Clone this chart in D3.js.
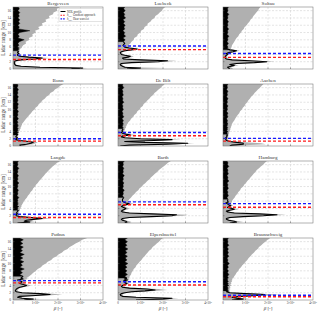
<!DOCTYPE html>
<html>
<head>
<meta charset="utf-8">
<script src="https://cdn.jsdelivr.net/npm/d3@7"></script>
<style>
body { margin: 0; background: #fff; }
svg { display: block; font-family: "Liberation Serif", "DejaVu Serif", serif; }
</style>
</head>
<body>
<div id="chart"></div>
<script>
// range bins [km]
const heights = [0, 0.25, 0.5, 0.75, 1, 1.25, 1.5, 1.75, 2, 2.25, 2.5, 2.75, 3, 3.25, 3.5, 3.75, 4, 4.25, 4.5, 4.75, 5, 5.25, 5.5, 5.75, 6,
  6.5, 7, 7.5, 8, 8.5, 9, 9.5, 10, 10.5, 11, 11.5, 12, 12.5, 13, 13.5, 14, 14.5, 15, 15.5, 16, 16.5, 17];

const stations = ["Bergeveen", "Luebeck", "Soltau", "Bonn", "De Bilt", "Aachen",
  "Langde", "Barth", "Hamburg", "Putbus", "Elpersbuettel", "Braunschweig"];

// PBL heights [km]
const pblGradient = [2.6, 5.3, 3.2, 1.35, 2.8, 1.35, 1.5, 5.0, 4.3, 4.7, 4.1, 0.9];
const pblWavelet = [3.8, 6.3, 4.25, 2.0, 3.7, 2.1, 2.4, 5.8, 5.3, 5.3, 5.0, 1.3];

// beta in units of 1e6 -- smoothed NDL profile (black) and raw signal (grey)
const bergeveenNdl = [2.6,3.1,1.2,0.35,0.12,0.08,0.06,0.06,0.07,0.1,0.35,1.0,1.3,0.7,0.3,0.2,0.2,0.26,0.2,0.24,0.2,0.26,0.22,0.28,0.2,
  0.26,0.22,0.28,0.5,0.22,0.28,0.22,0.3,0.75,0.24,0.28,0.22,0.3,0.24,0.3,0.22,0.28,0.24,0.3,0.22,0.28,0.24];
const bergeveenRaw = [2.9,3.3,1.5,0.5,0.2,0.15,0.12,0.12,0.14,0.2,0.5,1.3,1.6,1.0,0.5,0.35,0.3,0.32,0.26,0.3,0.28,0.32,0.3,0.38,0.4,
  0.45,0.58,0.56,0.74,0.7,0.88,0.86,1.02,0.98,1.18,1.12,1.32,1.28,1.48,1.44,1.62,1.6,1.78,1.8,1.97,1.95,2.1];

const luebeckNdl = [0.4,1.0,0.3,0.2,0.12,0.1,0.15,0.6,1.8,2.2,1.0,0.25,0.2,0.45,0.55,0.3,0.15,0.12,0.1,0.15,0.3,0.6,0.85,0.5,0.3,
  0.22,0.3,0.24,0.32,0.22,0.34,0.26,0.3,0.22,0.3,0.26,0.32,0.24,0.3,0.22,0.34,0.26,0.3,0.24,0.32,0.25,0.3];
const luebeckRaw = [0.6,2.1,0.5,0.3,0.2,0.18,0.3,0.9,2.2,2.6,1.4,0.4,0.3,0.6,0.7,0.45,0.25,0.2,0.18,0.25,0.45,0.8,1.0,0.7,0.45,
  0.45,0.55,0.6,0.7,0.72,0.85,0.88,1.0,1.02,1.15,1.18,1.3,1.32,1.45,1.5,1.62,1.66,1.78,1.85,1.95,2.0,2.1];

const soltauNdl = [0.3,0.25,0.2,0.35,0.5,0.3,0.6,1.4,1.95,1.2,0.4,0.15,0.1,0.12,0.1,0.15,0.2,0.15,0.25,0.45,0.6,0.3,0.2,0.2,0.22,
  0.18,0.24,0.18,0.22,0.2,0.26,0.18,0.22,0.2,0.25,0.18,0.22,0.2,0.24,0.18,0.22,0.2,0.26,0.18,0.22,0.2,0.24];
const soltauRaw = [0.45,0.4,0.35,0.5,0.7,0.45,0.8,1.7,2.3,1.6,0.6,0.25,0.18,0.2,0.18,0.22,0.28,0.25,0.35,0.55,0.75,0.5,0.35,0.35,0.38,
  0.4,0.45,0.5,0.55,0.6,0.68,0.72,0.8,0.84,0.92,0.96,1.05,1.1,1.18,1.22,1.3,1.35,1.42,1.48,1.55,1.6,1.66];

const bonnNdl = [0.35,0.3,0.6,0.8,0.9,0.7,0.3,0.12,0.15,0.2,0.12,0.15,0.18,0.22,0.18,0.24,0.18,0.22,0.2,0.24,0.18,0.22,0.2,0.24,0.18,
  0.22,0.18,0.24,0.18,0.22,0.2,0.24,0.18,0.22,0.2,0.24,0.18,0.22,0.2,0.24,0.18,0.22,0.2,0.24,0.18,0.22,0.2];
const bonnRaw = [0.6,0.5,0.9,1.0,1.1,0.9,0.45,0.2,0.2,0.22,0.2,0.24,0.22,0.25,0.24,0.28,0.26,0.3,0.3,0.34,0.33,0.37,0.36,0.4,0.4,
  0.46,0.52,0.58,0.66,0.72,0.8,0.86,0.95,1.0,1.1,1.15,1.25,1.3,1.42,1.48,1.6,1.66,1.8,1.86,2.0,2.1,2.25];

const deBiltNdl = [0.1,0.5,2.2,3.1,1.2,0.3,1.6,2.4,1.0,0.3,0.15,0.2,0.55,0.35,0.2,0.15,0.2,0.18,0.22,0.2,0.24,0.18,0.22,0.2,0.24,
  0.2,0.24,0.18,0.26,0.2,0.22,0.18,0.24,0.2,0.22,0.18,0.26,0.2,0.22,0.18,0.24,0.2,0.22,0.18,0.26,0.2,0.22];
const deBiltRaw = [0.2,0.8,2.6,3.4,1.6,0.5,2.0,2.8,1.4,0.5,0.25,0.35,0.8,0.55,0.3,0.25,0.3,0.28,0.32,0.3,0.36,0.34,0.38,0.38,0.42,
  0.46,0.54,0.58,0.68,0.72,0.82,0.86,0.96,1.0,1.1,1.14,1.24,1.3,1.4,1.46,1.56,1.62,1.72,1.8,1.9,1.98,2.08];

const aachenNdl = [0.3,0.4,0.9,0.9,0.6,0.3,0.15,0.12,0.15,0.12,0.18,0.15,0.2,0.16,0.2,0.18,0.22,0.16,0.2,0.18,0.22,0.16,0.2,0.18,0.22,
  0.18,0.2,0.16,0.22,0.18,0.22,0.16,0.2,0.18,0.22,0.16,0.2,0.18,0.22,0.16,0.2,0.18,0.22,0.16,0.2,0.18,0.22];
const aachenRaw = [0.6,1.2,1.9,1.7,1.0,0.5,0.25,0.2,0.22,0.2,0.24,0.22,0.26,0.24,0.28,0.27,0.3,0.3,0.33,0.32,0.35,0.35,0.38,0.38,0.4,
  0.44,0.5,0.54,0.6,0.65,0.72,0.76,0.84,0.88,0.96,1.0,1.08,1.12,1.2,1.25,1.34,1.4,1.48,1.55,1.64,1.72,1.8];

const langdeNdl = [0.2,0.75,0.5,0.6,0.9,1.3,0.8,0.3,0.15,0.12,0.2,0.15,0.18,0.2,0.24,0.18,0.22,0.2,0.26,0.18,0.22,0.2,0.24,0.18,0.22,
  0.2,0.26,0.18,0.22,0.2,0.24,0.18,0.22,0.2,0.26,0.18,0.22,0.2,0.24,0.18,0.22,0.2,0.26,0.18,0.22,0.2,0.24];
const langdeRaw = [0.4,1.0,0.8,0.9,1.3,1.7,1.1,0.45,0.25,0.22,0.26,0.24,0.28,0.27,0.32,0.3,0.34,0.34,0.38,0.37,0.4,0.42,0.45,0.46,0.5,
  0.55,0.62,0.66,0.74,0.78,0.86,0.9,0.98,1.02,1.1,1.16,1.24,1.3,1.38,1.44,1.52,1.6,1.68,1.76,1.86,1.96,2.1];

const barthNdl = [0.3,0.4,0.35,0.2,0.15,0.2,0.5,1.5,2.4,2.6,1.5,0.5,0.2,0.15,0.2,0.3,0.35,0.25,0.15,0.2,0.35,0.5,0.35,0.25,0.2,
  0.2,0.26,0.2,0.24,0.22,0.28,0.2,0.24,0.22,0.26,0.2,0.24,0.22,0.28,0.2,0.24,0.22,0.26,0.2,0.24,0.22,0.28];
const barthRaw = [0.5,0.6,0.5,0.3,0.25,0.3,0.8,2.0,2.9,3.1,2.0,0.8,0.35,0.25,0.3,0.45,0.5,0.4,0.3,0.35,0.5,0.7,0.5,0.45,0.45,
  0.5,0.58,0.64,0.74,0.8,0.9,0.96,1.06,1.12,1.22,1.3,1.4,1.46,1.56,1.64,1.74,1.82,1.92,2.02,2.12,2.22,2.35];

const hamburgNdl = [0.3,0.6,0.5,0.25,0.15,0.15,0.3,0.9,1.8,2.4,1.6,0.5,0.2,0.15,0.3,0.5,0.4,0.2,0.25,0.35,0.25,0.2,0.12,0.24,0.2,
  0.22,0.18,0.24,0.2,0.22,0.18,0.24,0.2,0.22,0.18,0.26,0.2,0.22,0.18,0.24,0.2,0.22,0.18,0.26,0.2,0.22,0.18];
const hamburgRaw = [0.45,0.9,0.7,0.4,0.25,0.25,0.5,1.2,2.2,2.8,2.0,0.8,0.35,0.25,0.45,0.7,0.55,0.35,0.35,0.45,0.38,0.36,0.36,0.4,0.4,
  0.45,0.52,0.56,0.64,0.68,0.76,0.8,0.9,0.94,1.02,1.08,1.16,1.22,1.3,1.36,1.44,1.5,1.6,1.68,1.78,1.86,1.96];

const putbusNdl = [0.5,0.9,0.4,0.2,0.3,1.0,1.65,1.2,0.4,0.15,0.1,0.12,0.15,0.2,0.3,0.5,0.6,0.45,0.3,0.35,0.4,0.3,0.2,0.45,0.35,
  0.45,0.3,0.42,0.32,0.5,0.3,0.42,0.34,0.48,0.3,0.44,0.32,0.5,0.3,0.42,0.34,0.46,0.3,0.44,0.32,0.46,0.3];
const putbusRaw = [0.7,1.2,0.6,0.35,0.5,1.5,2.2,1.6,0.6,0.25,0.2,0.22,0.25,0.3,0.45,0.7,0.8,0.65,0.5,0.55,0.6,0.55,0.5,0.65,0.6,
  0.72,0.82,0.9,1.02,1.1,1.24,1.32,1.46,1.54,1.7,1.78,1.94,2.02,2.18,2.26,2.42,2.52,2.66,2.78,2.94,3.08,3.3];

const elpersbuettelNdl = [0.8,2.0,2.4,0.8,0.2,0.12,0.1,0.15,0.3,0.6,1.2,1.65,1.3,0.5,0.2,0.15,0.2,0.3,0.4,0.3,0.35,0.25,0.42,0.28,0.4,
  0.3,0.42,0.32,0.4,0.3,0.4,0.32,0.44,0.3,0.4,0.32,0.42,0.3,0.4,0.32,0.44,0.3,0.4,0.32,0.42,0.3,0.42];
const elpersbuettelRaw = [1.0,2.3,2.7,1.1,0.35,0.22,0.2,0.25,0.45,0.9,1.6,2.2,1.8,0.8,0.35,0.28,0.32,0.4,0.5,0.42,0.46,0.4,0.52,0.45,0.5,
  0.52,0.58,0.6,0.66,0.7,0.78,0.82,0.9,0.96,1.04,1.1,1.18,1.24,1.32,1.38,1.48,1.54,1.64,1.72,1.82,1.9,2.0];

const braunschweigNdl = [0.4,0.9,0.6,0.4,0.8,1.5,1.85,1.0,0.3,0.15,0.24,0.18,0.24,0.2,0.22,0.18,0.26,0.2,0.24,0.18,0.24,0.2,0.22,0.18,0.24,
  0.2,0.26,0.2,0.24,0.18,0.24,0.2,0.28,0.2,0.22,0.18,0.26,0.2,0.24,0.2,0.24,0.18,0.26,0.2,0.22,0.2,0.24];
const braunschweigRaw = [0.6,1.2,0.9,0.6,1.2,2.1,2.5,1.5,0.5,0.28,0.32,0.26,0.34,0.28,0.34,0.3,0.38,0.32,0.38,0.34,0.4,0.38,0.42,0.4,0.46,
  0.5,0.56,0.6,0.68,0.72,0.8,0.86,0.94,1.0,1.08,1.14,1.22,1.28,1.38,1.44,1.54,1.6,1.7,1.78,1.88,1.98,2.1];

const ndlProfiles = [bergeveenNdl, luebeckNdl, soltauNdl, bonnNdl, deBiltNdl, aachenNdl,
  langdeNdl, barthNdl, hamburgNdl, putbusNdl, elpersbuettelNdl, braunschweigNdl];
const rawProfiles = [bergeveenRaw, luebeckRaw, soltauRaw, bonnRaw, deBiltRaw, aachenRaw,
  langdeRaw, barthRaw, hamburgRaw, putbusRaw, elpersbuettelRaw, braunschweigRaw];

const xTicks = [0, 1, 2, 3, 4];
const yTicks = [0, 2, 4, 6, 8, 10, 12, 14, 16];
const legendLabels = ["NDL profile", "Gradient approach", "Haar wavelet"];

// layout
const colLeft = [13, 118, 223];
const rowTop = [7, 84, 161, 238];
const pw = 90, ph = 62;

const svg = d3.select("#chart").append("svg")
    .attr("width", 320)
    .attr("height", 313);

svg.append("defs").append("clipPath")
    .attr("id", "clip")
    .append("rect")
    .attr("width", pw)
    .attr("height", ph);

const x = d3.scaleLinear().domain([0, 4]).range([0, pw]);
const y = d3.scaleLinear().domain([0, 17]).range([ph, 0]);

const profArea = d3.area()
    .x0(x(0))
    .x1(d => x(d.v))
    .y(d => y(d.h));
const ndlLine = d3.line()
    .x(d => x(d.v))
    .y(d => y(d.h));

stations.forEach((name, i) => {
    const col = i % 3, row = Math.floor(i / 3);
    const g = svg.append("g")
        .attr("transform", `translate(${colLeft[col]},${rowTop[row]})`);

    // grid
    g.selectAll(".gx")
        .data(xTicks.slice(1, -1))
        .enter().append("line")
        .attr("x1", d => x(d)).attr("x2", d => x(d))
        .attr("y1", 0).attr("y2", ph)
        .attr("stroke", "#c8c8c8").attr("stroke-width", 0.5)
        .attr("stroke-dasharray", "2,1.5");
    g.selectAll(".gy")
        .data(yTicks.slice(1))
        .enter().append("line")
        .attr("x1", 0).attr("x2", pw)
        .attr("y1", d => y(d)).attr("y2", d => y(d))
        .attr("stroke", "#c8c8c8").attr("stroke-width", 0.5)
        .attr("stroke-dasharray", "2,1.5");

    const plot = g.append("g").attr("clip-path", "url(#clip)");

    const raw = heights.map((h, k) => ({ h: h, v: rawProfiles[i][k] }));
    const ndl = heights.map((h, k) => ({ h: h, v: ndlProfiles[i][k] }));
    const fillFrom = pblWavelet[i] + 1;

    plot.append("path")
        .datum(raw)
        .attr("d", profArea)
        .attr("fill", "#b0b0b0");

    // above the mixing layer the noisy profile shows as a solid strip
    plot.append("path")
        .datum(ndl.filter(d => d.h >= fillFrom))
        .attr("d", profArea)
        .attr("fill", "#000")
        .attr("stroke", "#000")
        .attr("stroke-width", 0.4);

    plot.append("path")
        .datum(ndl.filter(d => d.h <= fillFrom + 0.25))
        .attr("d", ndlLine)
        .attr("fill", "none")
        .attr("stroke", "#000")
        .attr("stroke-linejoin", "round")
        .attr("stroke-width", 1.1);

    plot.append("line")
        .attr("x1", 0).attr("x2", pw)
        .attr("y1", y(pblGradient[i])).attr("y2", y(pblGradient[i]))
        .attr("stroke", "#ff1a1a").attr("stroke-width", 1.4)
        .attr("stroke-dasharray", "3,2");
    plot.append("line")
        .attr("x1", 0).attr("x2", pw)
        .attr("y1", y(pblWavelet[i])).attr("y2", y(pblWavelet[i]))
        .attr("stroke", "#1a1aff").attr("stroke-width", 1.4)
        .attr("stroke-dasharray", "3,2");

    // ticks
    g.selectAll(".tx")
        .data(xTicks.slice(1, -1))
        .enter().append("line")
        .attr("x1", d => x(d)).attr("x2", d => x(d))
        .attr("y1", ph).attr("y2", ph - 1.5)
        .attr("stroke", "#555").attr("stroke-width", 0.5);
    g.selectAll(".ty")
        .data(yTicks.slice(1))
        .enter().append("line")
        .attr("x1", 0).attr("x2", 1.5)
        .attr("y1", d => y(d)).attr("y2", d => y(d))
        .attr("stroke", "#555").attr("stroke-width", 0.5);

    g.append("rect")
        .attr("width", pw).attr("height", ph)
        .attr("fill", "none")
        .attr("stroke", "#666").attr("stroke-width", 0.5);

    g.append("text")
        .attr("x", pw / 2).attr("y", -1.8)
        .attr("text-anchor", "middle")
        .attr("font-size", 5)
        .attr("fill", "#333")
        .text(name);

    if (col === 0) {
        g.selectAll(".yl")
            .data(yTicks)
            .enter().append("text")
            .attr("x", -2).attr("y", d => y(d))
            .attr("dy", "0.35em")
            .attr("text-anchor", "end")
            .attr("font-size", 3.6)
            .attr("fill", "#333")
            .text(d => d);
        g.append("text")
            .attr("transform", `translate(-8.5,${ph / 2}) rotate(-90)`)
            .attr("text-anchor", "middle")
            .attr("font-size", 5.2)
            .attr("fill", "#333")
            .text("Lidar range [km]");
    }

    if (row === 3) {
        const lab = g.selectAll(".xl")
            .data(xTicks)
            .enter().append("text")
            .attr("x", d => x(d)).attr("y", ph + 4.2)
            .attr("text-anchor", "middle")
            .attr("font-size", 3.2)
            .attr("fill", "#333");
        lab.filter(d => d === 0).text("0");
        lab.filter(d => d !== 0).each(function (d) {
            const t = d3.select(this);
            t.append("tspan").text(d + "\u00d710");
            t.append("tspan").attr("dy", -1.2).attr("font-size", 2.3).text("6");
        });
        const xl = g.append("text")
            .attr("x", pw / 2).attr("y", ph + 10.2)
            .attr("text-anchor", "middle")
            .attr("font-size", 5)
            .attr("fill", "#333");
        xl.append("tspan").attr("font-style", "italic").text("\u03b2");
        xl.append("tspan").text(" [-]");
    }

    if (i === 0) {
        const lg = g.append("g").attr("transform", `translate(${pw - 44},1.5)`);
        lg.append("rect")
            .attr("width", 43.5).attr("height", 13)
            .attr("fill", "#fff")
            .attr("stroke", "#bbb").attr("stroke-width", 0.4);
        const colors = ["#000", "#ff1a1a", "#1a1aff"];
        legendLabels.forEach((lbl, k) => {
            const yy = 3 + k * 3.7;
            lg.append("line")
                .attr("x1", 1.5).attr("x2", 6.5)
                .attr("y1", yy).attr("y2", yy)
                .attr("stroke", colors[k])
                .attr("stroke-width", k === 0 ? 1 : 1.1)
                .attr("stroke-dasharray", k === 0 ? null : "1.6,1");
            const t = lg.append("text")
                .attr("x", 8).attr("y", yy)
                .attr("dy", "0.35em")
                .attr("font-size", 3)
                .attr("fill", "#333");
            if (k === 0) {
                t.text(lbl);
            } else {
                t.append("tspan").attr("font-style", "italic").text("h");
                t.append("tspan").attr("dy", 0.8).attr("font-size", 2).text("PBL");
                t.append("tspan").attr("dy", -0.8).text(" " + lbl);
            }
        });
    }
});
</script>
</body>
</html>
